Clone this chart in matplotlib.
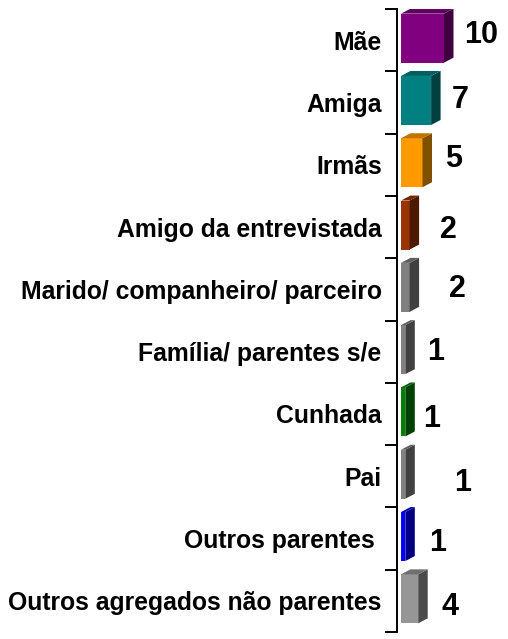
import numpy as np
import matplotlib
matplotlib.use('Agg')
import matplotlib.pyplot as plt
from matplotlib.patches import Polygon

categories = ['Mãe', 'Amiga', 'Irmãs', 'Amigo da entrevistada',
              'Marido/ companheiro/ parceiro', 'Família/ parentes s/e',
              'Cunhada', 'Pai', 'Outros parentes ', 'Outros agregados não parentes']
values = [10, 7, 5, 2, 2, 1, 1, 1, 1, 4]

front_colors = ['#800080', '#008080', '#FF9900', '#993300', '#808080',
                '#808080', '#008000', '#808080', '#0000FF', '#969696']
side_colors = ['#400040', '#004040', '#805000', '#4C1900', '#404040',
               '#404040', '#004000', '#404040', '#000080', '#4B4B4B']
top_colors = ['#600060', '#006060', '#BF7300', '#732600', '#606060',
              '#606060', '#006000', '#606060', '#0000BF', '#707070']

# value label offsets in pixels (dx, dy) from bar end
label_off = [(37, 5), (29, 2), (31, 6), (39, -3), (48, 0),
             (30, 0), (26, -5), (57, -7), (32, -4), (32, -6)]

W, H = 508, 639
DPI = 100
px_unit = 4.3      # pixels per value unit
slot = 62.3        # pixels per category
fig = plt.figure(figsize=(W / DPI, H / DPI), dpi=DPI)
ax_left, ax_top, ax_bot = 397, 9, 632
ax = fig.add_axes([ax_left / W, 1 - ax_bot / H, (W - ax_left) / W, (ax_bot - ax_top) / H])

x0 = 4 / px_unit
xmax = (W - ax_left) / px_unit - x0
ax.set_xlim(-x0, xmax)
ax.set_ylim(len(values), 0)

n = len(values)
ypos = np.arange(n) + 0.5
bh = 49 / slot
yshift = 2 / slot
dx = 9.5 / px_unit
dy = 5 / slot

for i, v in enumerate(values):
    yc = ypos[i] - yshift
    ytop = yc - bh / 2
    ybot = yc + bh / 2
    ax.barh(yc, v, height=bh, left=0, color=front_colors[i], edgecolor='none', zorder=3)
    side = Polygon([(v, ytop), (v + dx, ytop - dy), (v + dx, ybot - dy), (v, ybot)],
                   closed=True, facecolor=side_colors[i], edgecolor='none', zorder=3)
    top = Polygon([(0, ytop), (dx, ytop - dy), (v + dx, ytop - dy), (v, ytop)],
                  closed=True, facecolor=top_colors[i], edgecolor='none', zorder=3)
    ax.add_patch(side)
    ax.add_patch(top)
    ox, oy = label_off[i]
    ax.annotate(str(v), (v, ypos[i]), xytext=(ox * 0.72, oy * 0.72),
                textcoords='offset points', ha='center', va='center',
                fontsize=22, fontweight='bold', family='Liberation Sans',
                annotation_clip=False)

for s in ['top', 'right', 'bottom']:
    ax.spines[s].set_visible(False)
ax.spines['left'].set_linewidth(1.4)
ax.set_xticks([])
ax.set_yticks(ypos)
ax.set_yticklabels(categories, fontsize=17.8, fontweight='bold', family='Liberation Sans')
ax.tick_params(axis='y', which='major', length=0, pad=11)
ax.set_yticks(np.arange(n + 1), minor=True)
ax.tick_params(axis='y', which='minor', length=9, width=1.4, direction='out')

fig.savefig('out.png', dpi=DPI)
